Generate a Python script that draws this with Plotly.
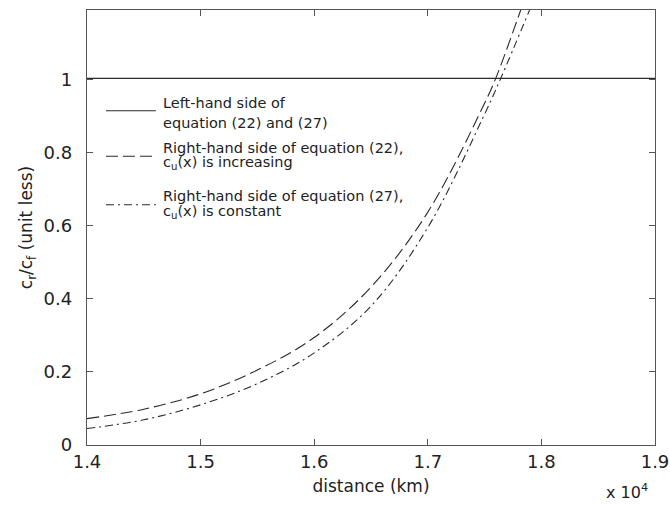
import plotly.graph_objects as go

# ---- data (distance in km) ----
dist_inc = [14000, 14500, 15000, 15500, 16000, 16500, 17000, 17500, 17598, 17818]
rhs_inc = [0.072, 0.098, 0.140, 0.205, 0.294, 0.432, 0.637, 0.935, 1.003, 1.19]

dist_const = [14000, 14500, 15000, 15500, 16000, 16500, 17000, 17500, 17642, 17896]
rhs_const = [0.045, 0.069, 0.110, 0.168, 0.252, 0.38, 0.595, 0.905, 1.003, 1.19]

dist_lhs = [14000, 19000]
lhs = [1.003, 1.003]

x_tickvals = [14000, 15000, 16000, 17000, 18000, 19000]
x_ticktext = ["1.4", "1.5", "1.6", "1.7", "1.8", "1.9"]
y_tickvals = [0, 0.2, 0.4, 0.6, 0.8, 1]
y_ticktext = ["0", "0.2", "0.4", "0.6", "0.8", "1"]

legend_lines = [
    ["Left-hand side of", "equation (22) and (27)"],
    ["Right-hand side of equation (22),", "c<sub>u</sub>(x) is increasing"],
    ["Right-hand side of equation (27),", "c<sub>u</sub>(x) is constant"],
]

# ---- layout geometry (pixels) ----
W, H = 670, 505
L, R, T, B = 86.5, 655.5, 10.3, 445.3


def px_x(p):
    return (p - L) / (R - L)


def px_y(p):
    return (B - p) / (B - T)


FONT = "DejaVu Sans, Verdana, sans-serif"
LINE_COL = "#2a2a2a"
DASH = "12px,5px"
DASHDOT = "8px,4px,2px,4px"

fig = go.Figure()
fig.add_trace(go.Scatter(x=dist_lhs, y=lhs, mode="lines",
                         line=dict(color=LINE_COL, width=1.2), showlegend=False))
fig.add_trace(go.Scatter(x=dist_inc, y=rhs_inc, mode="lines", line_shape="spline",
                         line=dict(color=LINE_COL, width=1.1, dash=DASH), showlegend=False))
fig.add_trace(go.Scatter(x=dist_const, y=rhs_const, mode="lines", line_shape="spline",
                         line=dict(color=LINE_COL, width=1.1, dash=DASHDOT), showlegend=False))

# ---- custom legend ----
styles = ["solid", DASH, DASHDOT]
line_y = [111, 156.5, 205]
text_y = [(103.5, 123), (148.5, 163.5), (196.5, 212)]
shapes = []
annotations = []
for i in range(3):
    shapes.append(dict(type="line", xref="paper", yref="paper",
                       x0=px_x(105.5), x1=px_x(155.5), y0=px_y(line_y[i]), y1=px_y(line_y[i]),
                       line=dict(color=LINE_COL, width=1.1, dash=styles[i])))
    for j in range(2):
        annotations.append(dict(xref="paper", yref="paper", x=px_x(160.5), y=px_y(text_y[i][j]),
                                xanchor="left", yanchor="middle", showarrow=False,
                                text=legend_lines[i][j],
                                font=dict(family=FONT, size=14.5, color="#222")))

annotations.append(dict(xref="paper", yref="paper", x=px_x(650), y=px_y(492),
                        xanchor="right", yanchor="middle", showarrow=False,
                        text="x 10<sup>4</sup>",
                        font=dict(family=FONT, size=16, color="#222")))

fig.update_layout(
    width=W, height=H,
    margin=dict(l=L, r=W - R, t=T, b=H - B),
    paper_bgcolor="white", plot_bgcolor="white",
    font=dict(family=FONT, color="#222"),
    shapes=shapes, annotations=annotations,
    showlegend=False,
)
fig.update_xaxes(range=[14000, 19000], tickvals=x_tickvals, ticktext=x_ticktext,
                 automargin=False, ticklabeloverflow="allow",
                 showline=True, mirror="ticks", linecolor="#555", linewidth=1.3,
                 ticks="inside", ticklen=6, tickcolor="#555", showgrid=False, zeroline=False,
                 tickfont=dict(family=FONT, size=18, color="#222"),
                 title=dict(text="distance (km)", font=dict(family=FONT, size=17, color="#222"),
                            standoff=9))
fig.update_yaxes(range=[0, 1.19], tickvals=y_tickvals, ticktext=y_ticktext,
                 automargin=False,
                 showline=True, mirror="ticks", linecolor="#555", linewidth=1.3,
                 ticks="inside", ticklen=6, tickcolor="#555", showgrid=False, zeroline=False,
                 tickfont=dict(family=FONT, size=18, color="#222"), ticklabelstandoff=10,
                 title=dict(text="c<sub>r</sub>/c<sub>f</sub> (unit less)",
                            font=dict(family=FONT, size=17, color="#222"), standoff=6))

fig.write_html("out.html", config={"displayModeBar": False},
               post_script="document.body.style.margin='0';document.body.style.overflow='hidden';")
